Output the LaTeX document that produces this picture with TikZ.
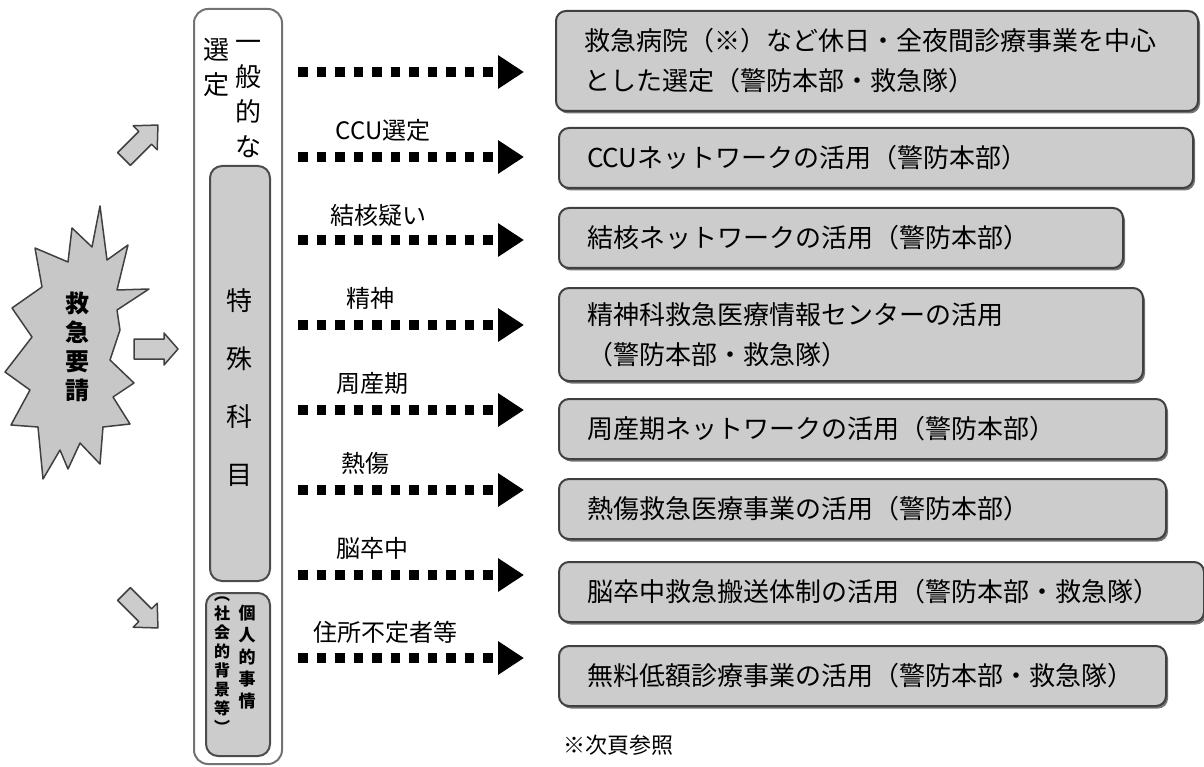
\documentclass[tikz,border=0pt]{standalone}
\usepackage{fontspec}
\setmainfont{Noto Sans CJK JP}
\usetikzlibrary{arrows.meta,shadows}
\tikzset{
  rbox/.style={draw=black!75, line width=2pt, fill=black!20, rounded corners=10pt,
    drop shadow={shadow xshift=2pt, shadow yshift=-2.5pt, fill=black!55, opacity=1},
    anchor=north west, align=left, inner xsep=28pt, inner ysep=0pt,
    font=\fontsize{26pt}{40pt}\selectfont},
  lbl/.style={font=\fontsize{24pt}{28pt}\selectfont, inner sep=0pt},
  dotarrow/.style={line width=9.5pt, dash pattern=on 9.5pt off 9pt,
    -{Triangle[length=26pt,width=32pt]}},
  blk/.style={fill=black!20, draw=black!75, line width=1.5pt, line join=round},
  vtext/.style={align=center, inner sep=0pt},
  inbox/.style={draw=black!70, line width=2pt, fill=black!20, rounded corners=12pt,
    anchor=north west, inner sep=0pt},
}
\begin{document}
\begin{tikzpicture}[x=1pt,y=-1pt]
\useasboundingbox (0,0) rectangle (1204,767);

% starburst
\draw[blk, fill=black!22] (100,206) -- (92,247) -- (72,228) -- (68,262) -- (35,248) -- (42,287)
  -- (12,308) -- (32,337) -- (5,372) -- (30,390) -- (11,425) -- (38,427) -- (43,479)
  -- (60,450) -- (68,469) -- (80,443) -- (100,464) -- (103,427) -- (130,424) -- (113,397)
  -- (134,383) -- (110,360) -- (120,330) -- (117,310) -- (149,289) -- (117,290) -- (128,245)
  -- (107,260) -- cycle;
\node[vtext, font=\fontsize{24pt}{29pt}\selectfont\bfseries] (req) at (77,347) {救\\急\\要\\請};

% block arrows
\draw[blk, shift={(124,159)}, rotate=45] (0,-9) -- (30,-9) -- (30,-17) -- (48,0) -- (30,17) -- (30,9) -- (0,9) -- cycle;
\draw[blk, shift={(134,349)}] (0,-10) -- (30,-10) -- (30,-16) -- (44,0) -- (30,16) -- (30,10) -- (0,10) -- cycle;
\draw[blk, shift={(124,594)}, rotate=-45] (0,-9) -- (30,-9) -- (30,-17) -- (48,0) -- (30,17) -- (30,9) -- (0,9) -- cycle;

% left column
\node[draw=black!55, line width=2pt, rounded corners=14pt, minimum width=88pt,
  minimum height=755pt, anchor=north west, inner sep=0pt] (outer) at (193,8) {};
\node[vtext, anchor=north, font=\fontsize{26pt}{35pt}\selectfont] (ippan) at (248,40) {一\\般\\的\\な};
\node[vtext, anchor=north, font=\fontsize{26pt}{35pt}\selectfont] (sentei) at (216,38) {選\\定};
\node[inbox, minimum width=60pt, minimum height=415pt] (sp) at (209,165) {};
\node[vtext, font=\fontsize{26pt}{58pt}\selectfont] (tokushu) at (239,388) {特\\殊\\科\\目};
\node[inbox, minimum width=64pt, minimum height=163pt] (kj) at (205,592) {};
\node[vtext, anchor=north, font=\fontsize{17pt}{22pt}\selectfont\bfseries] (kojin) at (247,605) {個\\人\\的\\事\\情};
\node[vtext, anchor=north, font=\fontsize{16pt}{19pt}\selectfont\bfseries] (shakai) at (222,597) {︵\\社\\会\\的\\背\\景\\等\\︶};

% right boxes
\node[rbox, text width=586pt, minimum height=100pt] (b1) at (555,10)
  {救急病院（※）など休日・全夜間診療事業を中心\\とした選定（警防本部・救急隊）};
\node[rbox, text width=578pt, minimum height=60pt] (b2) at (558,127) {CCUネットワークの活用（警防本部）};
\node[rbox, text width=508pt, minimum height=60pt] (b3) at (558,207) {結核ネットワークの活用（警防本部）};
\node[rbox, text width=528pt, minimum height=93pt] (b4) at (558,287) {精神科救急医療情報センターの活用\\（警防本部・救急隊）};
\node[rbox, text width=551pt, minimum height=60pt] (b5) at (558,398) {周産期ネットワークの活用（警防本部）};
\node[rbox, text width=551pt, minimum height=60pt] (b6) at (558,478) {熱傷救急医療事業の活用（警防本部）};
\node[rbox, text width=589pt, minimum height=60pt] (b7) at (558,561) {脳卒中救急搬送体制の活用（警防本部・救急隊）};
\node[rbox, text width=551pt, minimum height=60pt] (b8) at (558,645) {無料低額診療事業の活用（警防本部・救急隊）};

% dotted arrows
\foreach \i/\y in {1/72,2/157,3/240,4/325,5/410,6/490,7/575,8/658}{
  \coordinate (s\i) at (298,\y);
  \coordinate (e\i) at (524,\y);
  \draw[dotarrow] (s\i) -- (e\i);
}

% labels
\node[lbl] (l2) at (383,130) {CCU選定};
\node[lbl] (l3) at (378,215) {結核疑い};
\node[lbl] (l4) at (370,298) {精神};
\node[lbl] (l5) at (372,383) {周産期};
\node[lbl] (l6) at (365,463) {熱傷};
\node[lbl] (l7) at (372,548) {脳卒中};
\node[lbl] (l8) at (385,632) {住所不定者等};

\node[lbl, anchor=west, font=\fontsize{22pt}{26pt}\selectfont] (note) at (563,745) {※次頁参照};
\end{tikzpicture}
\end{document}
